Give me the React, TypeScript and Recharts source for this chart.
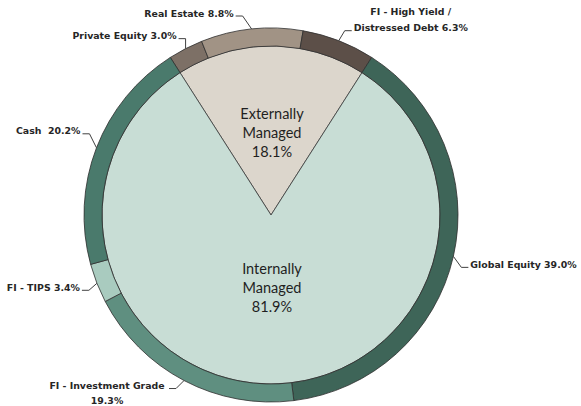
import { PieChart, Pie, Cell } from "recharts"

const managementNames = ["Externally Managed", "Internally Managed"]
const managementValues = [18.1, 81.9]
const managementColors = ["#dcd6cc", "#c8ddd5"]

const assetNames = [
  "Private Equity",
  "Real Estate",
  "FI - High Yield / Distressed Debt",
  "Global Equity",
  "FI - Investment Grade",
  "FI - TIPS",
  "Cash",
]
const assetValues = [3.0, 8.8, 6.3, 39.0, 19.3, 3.4, 20.2]
const assetColors = ["#7d7066", "#a19385", "#5c4f48", "#3e6558", "#5f8f80", "#a9cbbf", "#4a7a6c"]

const managementData = managementNames.map((name, i) => ({ name, value: managementValues[i] }))
const assetData = assetNames.map((name, i) => ({ name, value: assetValues[i] }))

// the pie starts so that the externally managed wedge sits centred at the top
const startAngle = 90 + (managementValues[0] / 100) * 180
const endAngle = startAngle - 360

// leader line elbows, relative to the point on the rim
const leaders: Record<string, { ex: number; ey: number; side: number; half?: number }> = {
  "Private Equity": { ex: 0, ey: -10, side: -1 },
  "Real Estate": { ex: -9, ey: -13, side: -1 },
  "FI - High Yield / Distressed Debt": { ex: 6, ey: -10, side: 1, half: 57 },
  "Global Equity": { ex: 8, ey: 11, side: 1 },
  "FI - Investment Grade": { ex: -8, ey: 8, side: -1, half: 60 },
  "FI - TIPS": { ex: -8, ey: 7, side: -1 },
  Cash: { ex: -7, ey: -14, side: -1 },
}

const labelFont = { fontFamily: "DejaVu Sans", fontWeight: 700, fontSize: 9.4, fill: "#262626" }

function assetLines(name: string, value: number) {
  const v = `${value.toFixed(1)}%`
  if (name.startsWith("FI - High Yield")) return ["FI - High Yield /", `Distressed Debt ${v}`]
  if (name === "FI - Investment Grade") return [name, v]
  if (name === "Cash") return [`Cash\u00a0\u00a0${v}`]
  return [`${name} ${v}`]
}

const renderAssetLabel = (props: any) => {
  const { cx, cy, midAngle, outerRadius } = props
  const name = props.payload?.name ?? props.name
  const value = props.payload?.value ?? props.value
  const rad = (-midAngle * Math.PI) / 180
  const px = cx + outerRadius * Math.cos(rad)
  const py = cy + outerRadius * Math.sin(rad)
  const l = leaders[name]
  const ex = px + l.ex
  const ey = py + l.ey
  const hx = ex + l.side * 7
  const tx = ex + l.side * 9
  const lines = assetLines(name, value)
  let texts
  if (lines.length === 1) {
    texts = (
      <text x={tx} y={ey - 3} textAnchor={l.side < 0 ? "end" : "start"} dominantBaseline="central" {...labelFont}>
        {lines[0]}
      </text>
    )
  } else {
    const mx = tx + l.side * (l.half ?? 50)
    const above = l.ey < 0
    texts = lines.map((t, i) => (
      <text
        key={i}
        x={mx}
        y={above ? ey - 3 - (lines.length - 1 - i) * 16 : ey - 3 + i * 15}
        textAnchor="middle"
        dominantBaseline="central"
        {...labelFont}
      >
        {t}
      </text>
    ))
  }
  return (
    <g>
      <polyline points={`${px},${py} ${ex},${ey} ${hx},${ey}`} fill="none" stroke="#404040" strokeWidth={1} />
      {texts}
    </g>
  )
}

const renderManagedLabel = (props: any) => {
  const { cx, cy, midAngle, outerRadius } = props
  const name: string = props.payload?.name ?? props.name
  const value: number = props.payload?.value ?? props.value
  const r = outerRadius * (name.startsWith("Ext") ? 0.49 : 0.43)
  const rad = (-midAngle * Math.PI) / 180
  const x = cx + r * Math.cos(rad) + 1
  const y = cy + r * Math.sin(rad)
  const lines = [...name.split(" "), `${value.toFixed(1)}%`]
  return (
    <g>
      {lines.map((t, i) => (
        <text
          key={i}
          x={x}
          y={y + (i - 1) * 19}
          textAnchor="middle"
          dominantBaseline="central"
          fontFamily="Lato"
          fontSize={14.5}
          fill="#1f1f1f"
        >
          {t}
        </text>
      ))}
    </g>
  )
}

export default function App() {
  return (
    <div style={{ position: "absolute", left: 0, top: 0, background: "#fff" }}>
      <PieChart width={581} height={406} margin={{ top: 0, right: 0, bottom: 0, left: 0 }}>
        <Pie
          data={managementData}
          dataKey="value"
          nameKey="name"
          cx={271}
          cy={215}
          outerRadius={169}
          startAngle={startAngle}
          endAngle={endAngle}
          stroke="#3a3a3a"
          strokeWidth={0.8}
          label={renderManagedLabel}
          labelLine={false}
          isAnimationActive={false}
        >
          {managementData.map((d, i) => (
            <Cell key={d.name} fill={managementColors[i]} />
          ))}
        </Pie>
        <Pie
          data={assetData}
          dataKey="value"
          nameKey="name"
          cx={271}
          cy={215}
          innerRadius={169}
          outerRadius={187}
          startAngle={startAngle}
          endAngle={endAngle}
          stroke="#2e2e2e"
          strokeWidth={0.8}
          label={renderAssetLabel}
          labelLine={false}
          isAnimationActive={false}
        >
          {assetData.map((d, i) => (
            <Cell key={d.name} fill={assetColors[i]} />
          ))}
        </Pie>
      </PieChart>
    </div>
  )
}
